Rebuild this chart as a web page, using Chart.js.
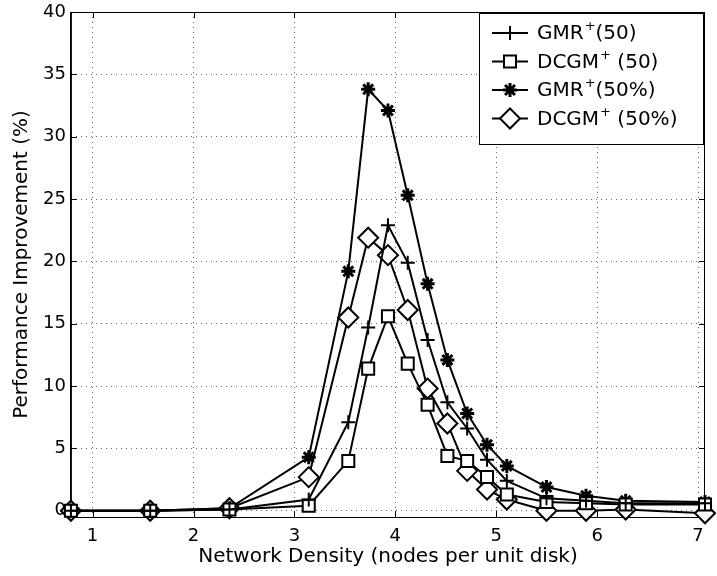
<!DOCTYPE html>
<html>
<head>
<meta charset="utf-8">
<script src="https://cdn.jsdelivr.net/npm/chart.js@4.4.1/dist/chart.umd.min.js"></script>
<style>
  html, body { margin: 0; padding: 0; background: #fff; }
  #wrap { width: 717px; height: 576px; }
</style>
</head>
<body>
<div id="wrap"><canvas id="perfChart" width="717" height="576"></canvas></div>
<script>
// network density (nodes per unit disk)
const density = [0.785, 1.571, 2.356, 3.142, 3.534, 3.731, 3.927, 4.123, 4.320, 4.516, 4.712, 4.909, 5.105, 5.498, 5.890, 6.283, 7.069];

// performance improvement (%) per series
const gmr50      = [0, 0, 0.1, 0.9, 7.1, 14.7, 22.9, 19.9, 13.7, 8.7, 6.6, 4.1, 2.4, 1.0, 0.8, 0.6, 0.6];
const dcgm50     = [0, 0, 0.1, 0.4, 4.0, 11.4, 15.6, 11.8, 8.5, 4.4, 4.0, 2.7, 1.3, 0.7, 0.6, 0.5, 0.5];
const gmr50pct   = [0, 0, 0.2, 4.3, 19.2, 33.8, 32.1, 25.3, 18.2, 12.1, 7.8, 5.3, 3.6, 1.9, 1.2, 0.8, 0.7];
const dcgm50pct  = [0, 0, 0.2, 2.7, 15.5, 21.9, 20.5, 16.1, 9.8, 7.0, 3.2, 1.7, 0.9, 0.0, 0.0, 0.1, -0.2];

// legend text: [name, superscript, suffix]
const legendLabels = [
  ['GMR', '+', '(50)'],
  ['DCGM', '+', ' (50)'],
  ['GMR', '+', '(50%)'],
  ['DCGM', '+', ' (50%)']
];

const xTicks = [1, 2, 3, 4, 5, 6, 7];
const yTicks = [0, 5, 10, 15, 20, 25, 30, 35, 40];

const FONT = 'DejaVu Sans';

function toPoints(ys) {
  return ys.map((y, i) => ({ x: density[i], y: y }));
}

function makeSet(label, ys, style, radius, bw) {
  return {
    label: label,
    data: toPoints(ys),
    borderColor: '#000',
    borderWidth: 2,
    backgroundColor: '#fff',
    pointStyle: style,
    pointRadius: radius,
    pointBorderWidth: bw,
    pointBackgroundColor: '#fff',
    pointBorderColor: '#000',
    tension: 0,
    clip: false
  };
}

const datasets = [
  makeSet('GMR+(50)', gmr50, 'cross', 7, 2),
  makeSet('DCGM+ (50)', dcgm50, 'rect', 8.5, 2),
  makeSet('GMR+(50%)', gmr50pct, 'star', 7, 3),
  makeSet('DCGM+ (50%)', dcgm50pct, 'rectRot', 10, 2)
];

// box around the plot plus small inward ticks
const framePlugin = {
  id: 'frame',
  beforeDatasetsDraw(chart) {
    const { ctx, chartArea: a, scales } = chart;
    ctx.save();
    ctx.strokeStyle = '#000';
    ctx.lineWidth = 1;
    ctx.strokeRect(a.left + 0.5, a.top + 0.5, a.right - a.left - 1, a.bottom - a.top);
    ctx.beginPath();
    xTicks.forEach(v => {
      const px = Math.round(scales.x.getPixelForValue(v)) + 0.5;
      ctx.moveTo(px, a.bottom); ctx.lineTo(px, a.bottom - 6);
      ctx.moveTo(px, a.top); ctx.lineTo(px, a.top + 6);
    });
    yTicks.forEach(v => {
      const py = Math.round(scales.y.getPixelForValue(v)) + 0.5;
      ctx.moveTo(a.left, py); ctx.lineTo(a.left + 6, py);
      ctx.moveTo(a.right, py); ctx.lineTo(a.right - 6, py);
    });
    ctx.stroke();
    ctx.restore();
  }
};

// matlab style legend: line with marker in the middle
const legendPlugin = {
  id: 'boxLegend',
  afterDraw(chart) {
    const { ctx } = chart;
    const bx = 479, by = 13, bw = 224, bh = 131;
    ctx.save();
    ctx.fillStyle = '#fff';
    ctx.fillRect(bx, by, bw, bh);
    ctx.strokeStyle = '#000';
    ctx.lineWidth = 1;
    ctx.strokeRect(bx + 0.5, by + 0.5, bw, bh);
    chart.data.datasets.forEach((ds, i) => {
      const y = by + 20 + i * 28.5;
      ctx.strokeStyle = '#000';
      ctx.lineWidth = 2;
      ctx.beginPath();
      ctx.moveTo(492, y); ctx.lineTo(528, y);
      ctx.stroke();
      ctx.fillStyle = '#fff';
      ctx.lineWidth = ds.pointBorderWidth;
      Chart.helpers.drawPoint(ctx, {
        pointStyle: ds.pointStyle,
        radius: ds.pointRadius,
        rotation: 0,
        borderWidth: ds.pointBorderWidth
      }, 510, y);
      const parts = legendLabels[i];
      ctx.fillStyle = '#000';
      ctx.textBaseline = 'middle';
      ctx.font = '20px "' + FONT + '"';
      let tx = 537;
      ctx.fillText(parts[0], tx, y + 1);
      tx += ctx.measureText(parts[0]).width + 1;
      ctx.font = '13px "' + FONT + '"';
      ctx.fillText(parts[1], tx, y - 6);
      tx += ctx.measureText(parts[1]).width;
      ctx.font = '20px "' + FONT + '"';
      ctx.fillText(parts[2], tx, y + 1);
    });
    ctx.restore();
  }
};

new Chart(document.getElementById('perfChart').getContext('2d'), {
  type: 'line',
  data: { datasets: datasets },
  options: {
    responsive: false,
    animation: false,
    devicePixelRatio: 1,
    layout: { padding: { left: 8, right: 9, top: 0, bottom: 0 } },
    plugins: {
      legend: { display: false },
      tooltip: { enabled: false }
    },
    scales: {
      x: {
        type: 'linear',
        min: 0.785,
        max: 7.069,
        afterBuildTicks: s => { s.ticks = xTicks.map(v => ({ value: v })); },
        afterFit: s => { s.height = 59; },
        grid: { color: '#666', lineWidth: 1, drawTicks: false },
        border: { display: true, color: '#000', width: 1, dash: [1, 4] },
        ticks: { color: '#000', font: { family: FONT, size: 18 }, padding: 9 },
        title: {
          display: true,
          text: 'Network Density (nodes per unit disk)',
          color: '#000',
          font: { family: FONT, size: 20 },
          padding: { top: 0, bottom: 7 }
        }
      },
      y: {
        type: 'linear',
        min: -0.5,
        max: 40,
        afterBuildTicks: s => { s.ticks = yTicks.map(v => ({ value: v })); },
        afterFit: s => { s.paddingTop = 11; },
        grid: { color: '#666', lineWidth: 1, drawTicks: false },
        border: { display: true, color: '#000', width: 1, dash: [1, 4] },
        ticks: { color: '#000', font: { family: FONT, size: 18 }, padding: 5 },
        title: {
          display: true,
          text: 'Performance Improvement (%)',
          color: '#000',
          font: { family: FONT, size: 20 },
          padding: { top: 2, bottom: 4 }
        }
      }
    }
  },
  plugins: [framePlugin, legendPlugin]
});
</script>
</body>
</html>
